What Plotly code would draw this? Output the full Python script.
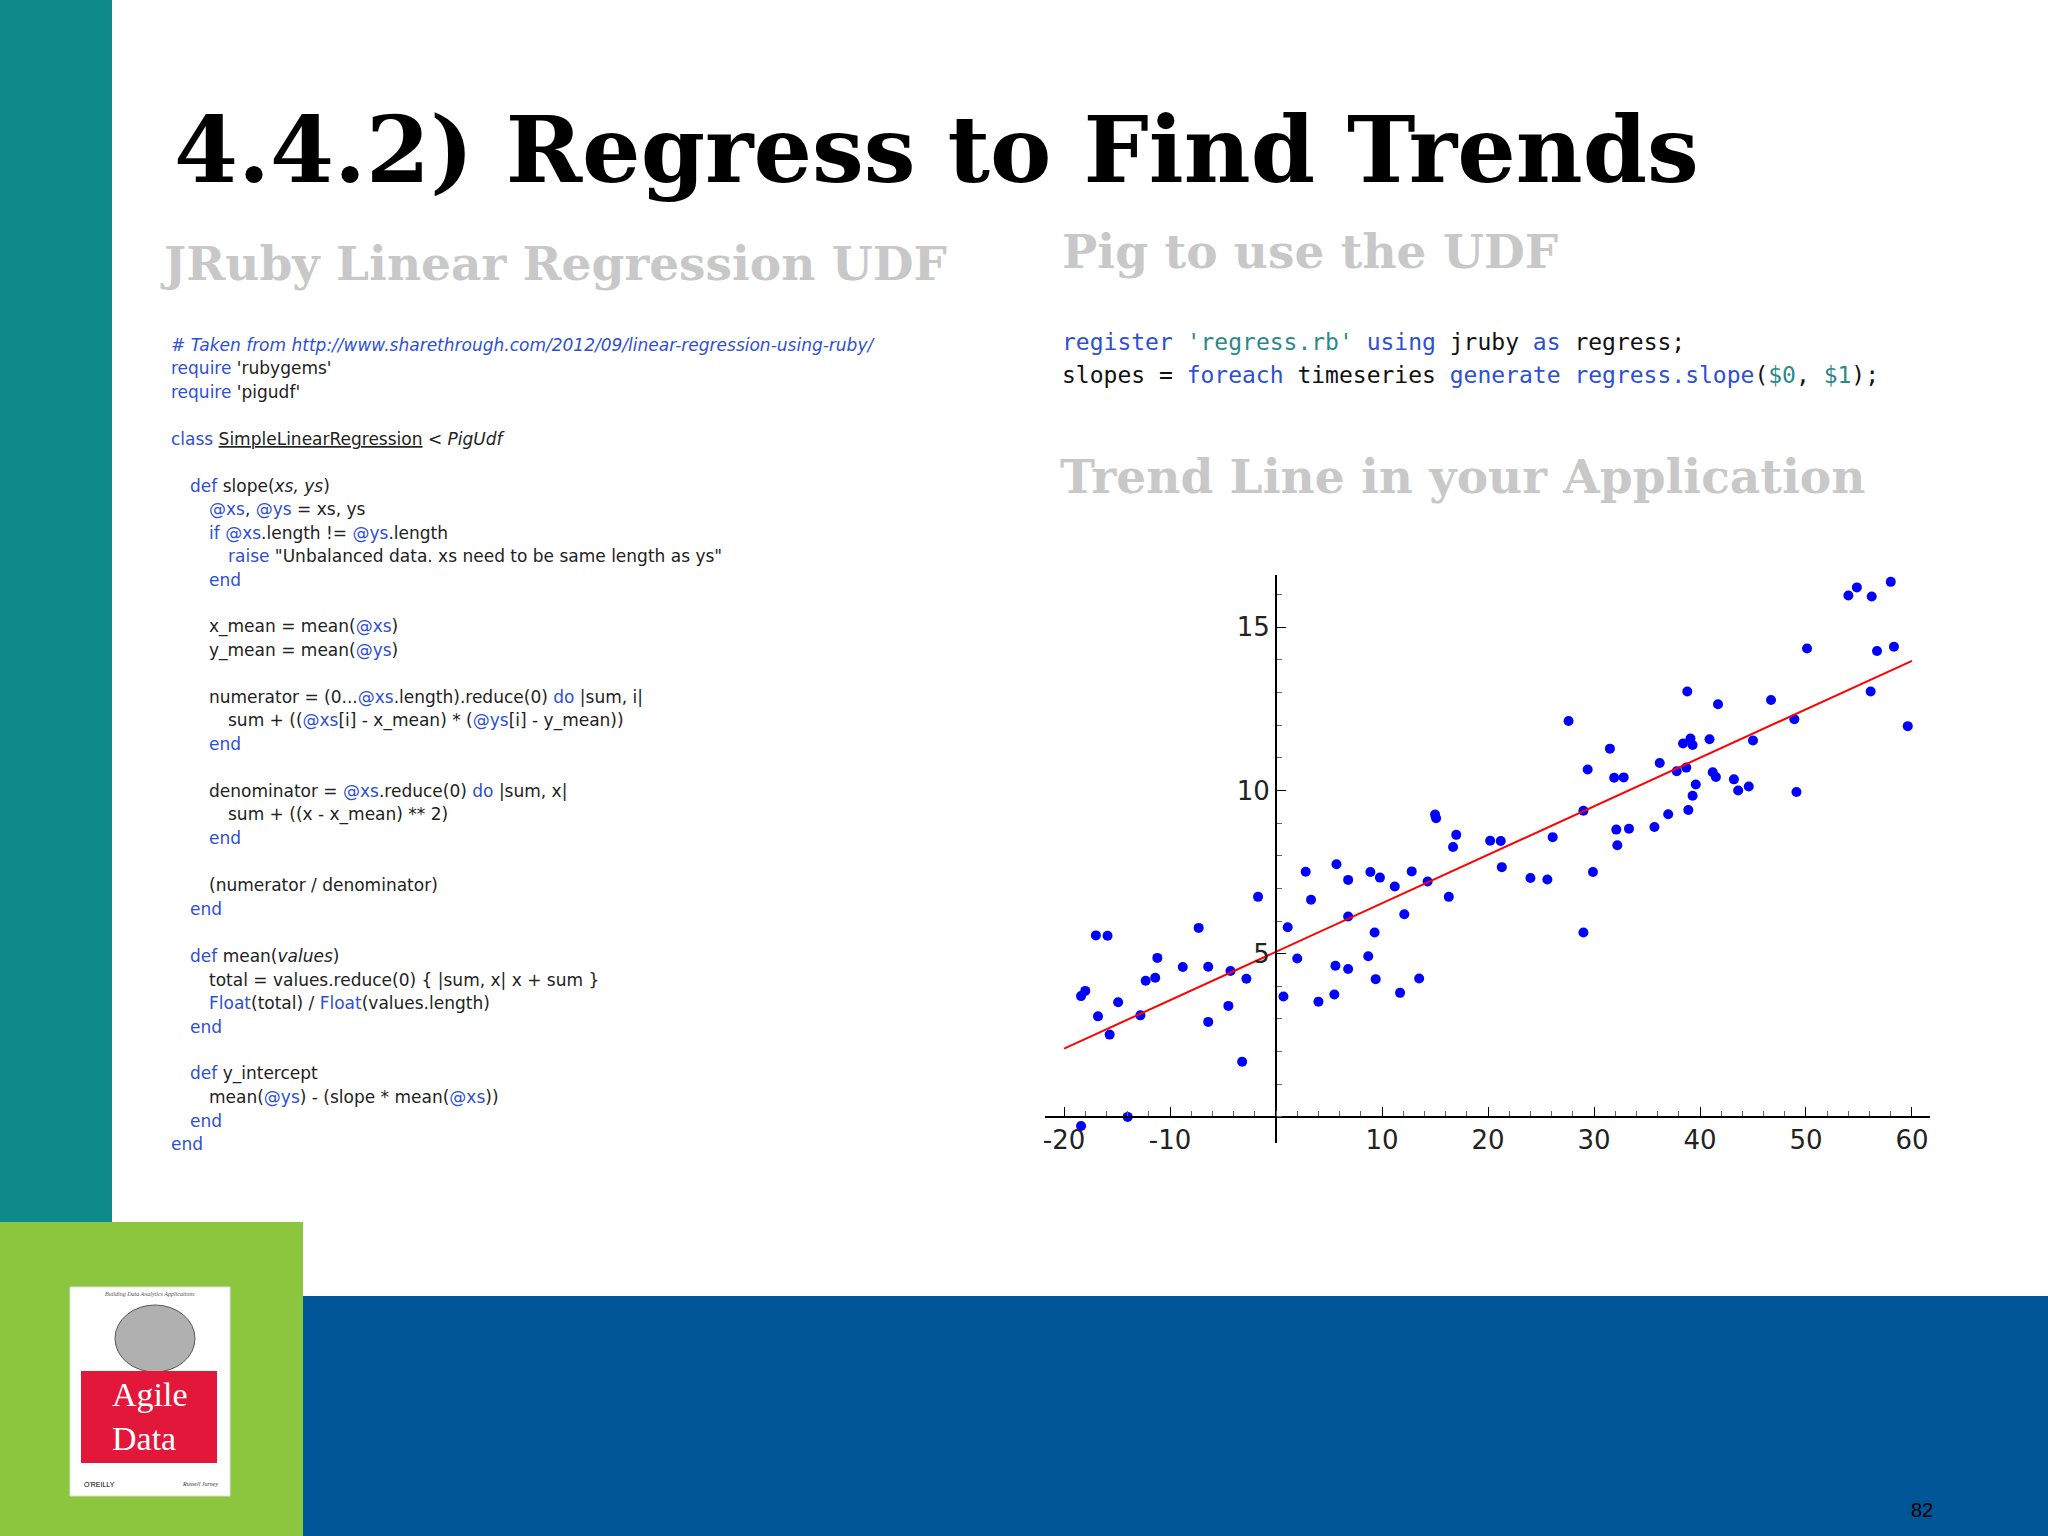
import plotly.graph_objects as go

xs = [-18.4,-18.0,-18.4,-17.0,-15.9,-16.8,-14.9,-15.7,-14.0,-12.8,-12.3,-11.4,-11.2,-8.8,-7.3,-6.4,-6.4,-4.5,-4.3,-3.2,-2.8,-1.7,
      0.7,1.1,2.0,2.8,3.3,4.0,5.5,5.6,5.7,6.8,6.8,6.8,8.7,8.9,9.3,9.8,9.4,11.2,11.7,12.1,12.8,13.5,14.3,15.0,15.1,16.3,16.7,17.0,
      20.2,21.2,21.3,24.0,25.6,26.1,27.6,29.0,29.0,29.4,29.9,31.5,31.9,32.8,32.1,32.2,33.3,35.7,36.2,37.0,37.8,38.4,38.7,38.8,38.9,
      39.1,39.3,39.3,39.6,40.9,41.2,41.5,41.7,43.2,43.6,44.6,45.0,46.7,48.9,49.1,50.1,54.0,54.8,56.2,58.0,56.1,56.7,58.3,59.6]
ys = [3.70,3.86,-0.28,5.56,5.55,3.08,3.51,2.52,0.0,3.11,4.17,4.26,4.87,4.59,5.79,4.60,2.91,3.40,4.47,1.69,4.23,6.74,
      3.69,5.81,4.85,7.51,6.65,3.53,3.75,4.63,7.74,4.53,7.26,6.14,4.92,7.50,5.65,7.33,4.22,7.06,3.80,6.21,7.52,4.24,7.21,9.26,9.15,6.74,8.27,8.64,
      8.46,8.45,7.65,7.32,7.27,8.57,12.13,5.65,9.38,10.64,7.50,11.28,10.39,10.40,8.80,8.32,8.83,8.88,10.84,9.27,10.59,11.44,10.70,13.03,9.40,
      11.59,11.39,9.84,10.18,11.57,10.56,10.41,12.64,10.34,10.00,10.12,11.53,12.77,12.18,9.95,14.35,15.97,16.22,15.94,16.39,13.03,14.27,14.40,11.97]
trend_x = [-20, 60]
trend_y = [2.09, 13.97]
x_ticks = [-20, -10, 10, 20, 30, 40, 50, 60]
x_tick_labels = ["-20", "-10", "10", "20", "30", "40", "50", "60"]
y_ticks = [5, 10, 15]

W, H = 2048, 1536
PL, PR, PT, PB = 1045, 1930, 575, 1143
XR = [-21.8, 61.7]
YR = [-0.8, 16.6]

def px(x): return (x - PL) / (PR - PL)
def py(y): return (PB - y) / (PB - PT)

fig = go.Figure()
fig.add_trace(go.Scatter(x=xs, y=ys, mode="markers", marker=dict(color="#0000ff", size=10), showlegend=False))
fig.add_trace(go.Scatter(x=trend_x, y=trend_y, mode="lines", line=dict(color="#ff0000", width=2), showlegend=False))

shapes = [
    dict(type="rect", xref="paper", yref="paper", x0=px(0), x1=px(112), y0=py(1222), y1=py(0), fillcolor="#0e8a8a", line_width=0, layer="below"),
    dict(type="rect", xref="paper", yref="paper", x0=px(0), x1=px(303), y0=py(1536), y1=py(1222), fillcolor="#8cc63f", line_width=0, layer="below"),
    dict(type="rect", xref="paper", yref="paper", x0=px(303), x1=px(2048), y0=py(1536), y1=py(1296), fillcolor="#005596", line_width=0, layer="below"),
    dict(type="rect", xref="paper", yref="paper", x0=px(70), x1=px(230), y0=py(1496), y1=py(1287), fillcolor="#ffffff", line=dict(color="#dddddd", width=1), layer="below"),
    dict(type="circle", xref="paper", yref="paper", x0=px(115), x1=px(195), y0=py(1372), y1=py(1305), fillcolor="#b0b0b0", line=dict(color="#555", width=1), layer="below"),
    dict(type="rect", xref="paper", yref="paper", x0=px(81), x1=px(217), y0=py(1463), y1=py(1371), fillcolor="#e2173a", line_width=0, layer="below"),
]

ann = []
def T(x, y, text, size, color="#222", family="DejaVu Sans", xanchor="left", yanchor="middle"):
    ann.append(dict(x=px(x), y=py(y), xref="paper", yref="paper", text=text, showarrow=False,
                    font=dict(size=size, color=color, family=family), xanchor=xanchor, yanchor=yanchor))

T(172, 150, "<b>4.4.2) Regress to Find Trends</b>", 92, "#000", "DejaVu Serif")
T(158, 263, "<b>JRuby Linear Regression UDF</b>", 47, "#c8c8c8", "DejaVu Serif")
T(1060, 251, "<b>Pig to use the UDF</b>", 47, "#c8c8c8", "DejaVu Serif")
T(1058, 477, "<b>Trend Line in your Application</b>", 47, "#c8c8c8", "DejaVu Serif")

B = "#2e4fd6"; G = "#2a8a8a"
def k(s): return f'<span style="color:{B}">{s}</span>'
def g(s): return f'<span style="color:{G}">{s}</span>'
T(1060, 342, f"{k('register')} {g(chr(39)+'regress.rb'+chr(39))} {k('using')} jruby {k('as')} regress;", 23, "#111", "DejaVu Sans Mono")
T(1060, 375, f"slopes = {k('foreach')} timeseries {k('generate')} {k('regress.slope')}({g('$0')}, {g('$1')});", 23, "#111", "DejaVu Sans Mono")

code = [
    (264, 0, f'<i>{k("# Taken from http://www.sharethrough.com/2012/09/linear-regression-using-ruby/")}</i>'),
    (282, 0, f"{k('require')} 'rubygems'"),
    (300, 0, f"{k('require')} 'pigudf'"),
    (336, 0, f"{k('class')} <u>SimpleLinearRegression</u> &lt; <i>PigUdf</i>"),
    (372, 1, f"{k('def')} slope(<i>xs, ys</i>)"),
    (390, 2, f"{k('@xs')}, {k('@ys')} = xs, ys"),
    (408, 2, f"{k('if')} {k('@xs')}.length != {k('@ys')}.length"),
    (426, 3, f'{k("raise")} "Unbalanced data. xs need to be same length as ys"'),
    (444, 2, k("end")),
    (480, 2, f"x_mean = mean({k('@xs')})"),
    (498, 2, f"y_mean = mean({k('@ys')})"),
    (534, 2, f"numerator = (0...{k('@xs')}.length).reduce(0) {k('do')} |sum, i|"),
    (552, 3, f"sum + (({k('@xs')}[i] - x_mean) * ({k('@ys')}[i] - y_mean))"),
    (570, 2, k("end")),
    (606, 2, f"denominator = {k('@xs')}.reduce(0) {k('do')} |sum, x|"),
    (624, 3, "sum + ((x - x_mean) ** 2)"),
    (642, 2, k("end")),
    (678, 2, "(numerator / denominator)"),
    (696, 1, k("end")),
    (732, 1, f"{k('def')} mean(<i>values</i>)"),
    (750, 2, "total = values.reduce(0) { |sum, x| x + sum }"),
    (768, 2, f"{k('Float')}(total) / {k('Float')}(values.length)"),
    (786, 1, k("end")),
    (822, 1, f"{k('def')} y_intercept"),
    (840, 2, f"mean({k('@ys')}) - (slope * mean({k('@xs')}))"),
    (858, 1, k("end")),
    (876, 0, k("end")),
]
for yd, ind, txt in code:
    T(169 + ind * 19, yd * 1.306, txt, 17, "#222", "DejaVu Sans")

ann.append(dict(x=px(150), y=py(1416), xref="paper", yref="paper", text="Agile<br>Data", showarrow=False,
                font=dict(size=34, color="#fff", family="Liberation Serif"), align="left", xanchor="center", yanchor="middle"))
T(150, 1294, "<i>Building Data Analytics Applications</i>", 6, "#555", "Liberation Serif", xanchor="center")
T(82, 1484, "O'REILLY", 7, "#000", "Liberation Sans")
T(200, 1484, "<i>Russell Jurney</i>", 6, "#333", "Liberation Serif", xanchor="center")
T(1922, 1510, "82", 20, "#000", "Liberation Sans", xanchor="center")

fig.update_layout(
    width=W, height=H, margin=dict(l=PL, r=W - PR, t=PT, b=H - PB),
    paper_bgcolor="#fff", plot_bgcolor="#fff", shapes=shapes, annotations=ann,
    xaxis=dict(range=XR, tickvals=x_ticks, ticktext=x_tick_labels, showgrid=False, zeroline=False, showline=True, linecolor="#000", linewidth=2,
               anchor="free", position=(0 - YR[0]) / (YR[1] - YR[0]), ticks="inside", ticklen=9, tickcolor="#000",
               minor=dict(dtick=2, ticks="inside", ticklen=5, tickcolor="#666"),
               tickfont=dict(size=26, color="#222", family="DejaVu Sans")),
    yaxis=dict(range=YR, tickvals=y_ticks, showgrid=False, zeroline=False, showline=True, linecolor="#000", linewidth=2,
               anchor="free", position=(0 - XR[0]) / (XR[1] - XR[0]), ticks="inside", ticklen=9, tickcolor="#000",
               minor=dict(dtick=1, ticks="inside", ticklen=5, tickcolor="#666"),
               tickfont=dict(size=26, color="#222", family="DejaVu Sans")),
)
fig.write_html("out.html", config={"displayModeBar": False}, post_script="document.body.style.margin='0';")
